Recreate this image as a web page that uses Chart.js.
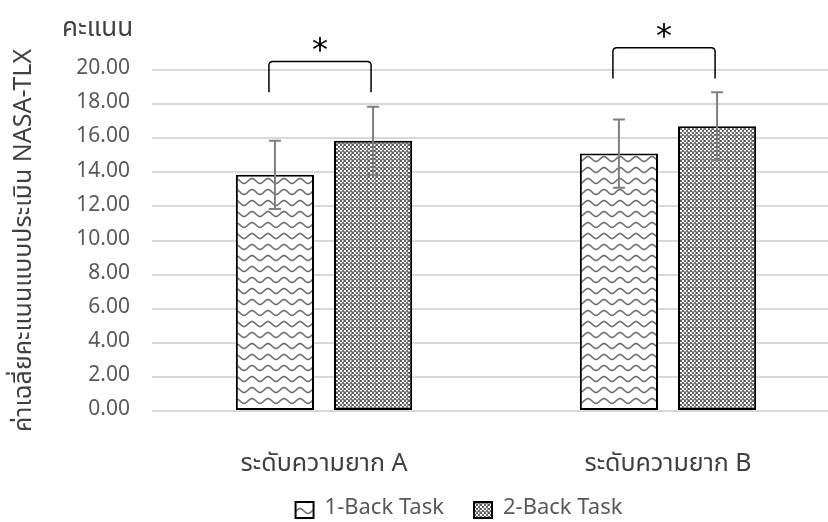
<!DOCTYPE html>
<html><head><meta charset="utf-8">
<script src="https://cdn.jsdelivr.net/npm/chart.js@4"></script>
<style>html,body{margin:0;padding:0;background:#fff}#wrap{width:828px;height:522px}</style>
</head><body><div id="wrap"><canvas id="c" width="828" height="522"></canvas></div>
<script>
const categories = ['ระดับความยาก A', 'ระดับความยาก B'];
const seriesNames = ['1-Back Task', '2-Back Task'];
const oneBack = [13.85, 15.1];
const twoBack = [15.85, 16.7];
const oneBackErr = [2.0, 2.0];
const twoBackErr = [2.0, 2.0];
const yMin = 0, yMax = 20, yStep = 2;
const unitLabel = 'คะแนน';
const yTitle = 'ค่าเฉลี่ยคะแนนแบบประเมิน NASA-TLX';
const sigTop = [20.5, 21.3];
const sigBottom = [18.7, 19.5];
const sigLabel = ['*', '*'];

const FONT = '"Noto Sans Thai","Noto Sans","Open Sans",sans-serif';

function wavePattern() {
  const c = document.createElement('canvas'); c.width = 16; c.height = 11;
  const g = c.getContext('2d');
  g.fillStyle = '#fff'; g.fillRect(0, 0, 16, 11);
  g.strokeStyle = '#707070'; g.lineWidth = 1.6;
  g.beginPath();
  for (let x = -1; x <= 17; x += 0.5) {
    const y = 5 + 2.4 * Math.sin((x / 16) * Math.PI * 2);
    if (x === -1) g.moveTo(x, y); else g.lineTo(x, y);
  }
  g.stroke();
  return g.createPattern(c, 'repeat');
}
function checkPattern() {
  const c = document.createElement('canvas'); c.width = 8; c.height = 8;
  const g = c.getContext('2d');
  g.fillStyle = '#fff'; g.fillRect(0, 0, 8, 8);
  g.fillStyle = '#5f5f5f';
  for (let y = 0; y < 8; y += 2) for (let x = 0; x < 8; x += 2) {
    if (((x + y) / 2) % 2 === 0) g.fillRect(x, y, 2, 2);
  }
  g.fillStyle = 'rgba(120,120,120,0.7)';
  g.fillRect(7, 0, 1, 8); g.fillRect(0, 7, 8, 1);
  return g.createPattern(c, 'repeat');
}

const errs = [oneBackErr, twoBackErr];
const PLOT_RIGHT = 840;

const errorBars = {
  id: 'errorBars',
  afterDatasetsDraw(chart) {
    const ctx = chart.ctx, ys = chart.scales.y;
    ctx.save();
    ctx.strokeStyle = '#7f7f7f'; ctx.lineWidth = 2;
    chart.data.datasets.forEach((ds, i) => {
      const meta = chart.getDatasetMeta(i);
      meta.data.forEach((el, j) => {
        const v = ds.data[j], e = errs[i][j];
        const t = ys.getPixelForValue(v + e), b = ys.getPixelForValue(v - e);
        ctx.beginPath();
        ctx.moveTo(el.x, t); ctx.lineTo(el.x, b);
        ctx.moveTo(el.x - 6, t); ctx.lineTo(el.x + 6, t);
        ctx.moveTo(el.x - 6, b); ctx.lineTo(el.x + 6, b);
        ctx.stroke();
      });
    });
    ctx.restore();
  }
};

const annotations = {
  id: 'annotations',
  afterDraw(chart) {
    const ctx = chart.ctx, ys = chart.scales.y;
    ctx.save();
    const m0 = chart.getDatasetMeta(0), m1 = chart.getDatasetMeta(1);
    categories.forEach((c, j) => {
      const x1 = m0.data[j].x - 6, x2 = m1.data[j].x - 2;
      const t = ys.getPixelForValue(sigTop[j]), b = ys.getPixelForValue(sigBottom[j]);
      ctx.strokeStyle = '#000'; ctx.lineWidth = 1.5;
      ctx.beginPath();
      ctx.moveTo(x1, b); ctx.lineTo(x1, t + 4);
      ctx.quadraticCurveTo(x1, t, x1 + 4, t);
      ctx.lineTo(x2 - 4, t);
      ctx.quadraticCurveTo(x2, t, x2, t + 4);
      ctx.lineTo(x2, b);
      ctx.stroke();
      ctx.fillStyle = '#000';
      ctx.font = '32px "DejaVu Sans"';
      ctx.textAlign = 'center'; ctx.textBaseline = 'middle';
      ctx.fillText(sigLabel[j], (x1 + x2) / 2, t - 10);
    });
    ctx.fillStyle = '#404040';
    ctx.font = '26px ' + FONT;
    ctx.textAlign = 'left'; ctx.textBaseline = 'alphabetic';
    ctx.fillText(unitLabel, 62, 36);
    ctx.restore();
  }
};

const layoutFix = {
  id: 'layoutFix',
  afterLayout(chart) {
    const xs = chart.scales.x;
    chart.chartArea.right = PLOT_RIGHT;
    chart.chartArea.width = PLOT_RIGHT - chart.chartArea.left;
    xs.right = PLOT_RIGHT; xs.width = PLOT_RIGHT - xs.left;
    xs.configure();
    const lg = chart.legend; if (!lg) return;
    const pad = lg.options.labels.padding, ih = lg.options.labels.font.size;
    const dx = 459 - (lg.left + lg.right) / 2;
    const dy = (510 - pad - ih / 2) - lg.top;
    lg.left += dx; lg.right += dx; lg.top += dy; lg.bottom += dy;
    (lg.legendHitBoxes || []).forEach(h => { h.left += dx; h.top += dy; });
  }
};

new Chart(document.getElementById('c'), {
  type: 'bar',
  data: {
    labels: categories,
    datasets: [
      { label: seriesNames[0], data: oneBack, backgroundColor: wavePattern(), borderColor: '#000', borderWidth: 2, borderSkipped: false },
      { label: seriesNames[1], data: twoBack, backgroundColor: checkPattern(), borderColor: '#000', borderWidth: 2, borderSkipped: false }
    ]
  },
  options: {
    responsive: false,
    devicePixelRatio: 1,
    animation: false,
    layout: { padding: { left: 0, right: 0, top: 70, bottom: -53 } },
    datasets: { bar: { categoryPercentage: 0.5706, barPercentage: 0.796 } },
    scales: {
      x: {
        grid: { display: false },
        border: { display: false },
        ticks: { color: '#404040', font: { family: FONT, size: 25 }, padding: 32 }
      },
      y: {
        min: yMin, max: yMax,
        afterFit(s) { s.width = 152; },
        grid: { color: '#d9d9d9', lineWidth: 2, drawTicks: false },
        border: { display: false },
        ticks: { stepSize: yStep, color: '#595959', font: { family: FONT, size: 21 }, padding: 22,
                 callback: v => v.toFixed(2) },
        title: { display: true, text: yTitle, color: '#404040', font: { family: FONT, size: 25 }, padding: { top: 11, bottom: 0 } }
      }
    },
    plugins: {
      legend: {
        position: 'bottom',
        labels: { color: '#595959', font: { family: FONT, size: 22 }, boxWidth: 18, boxHeight: 16, padding: 30 }
      },
      tooltip: { enabled: false }
    }
  },
  plugins: [layoutFix, errorBars, annotations]
});
</script>
</body></html>
